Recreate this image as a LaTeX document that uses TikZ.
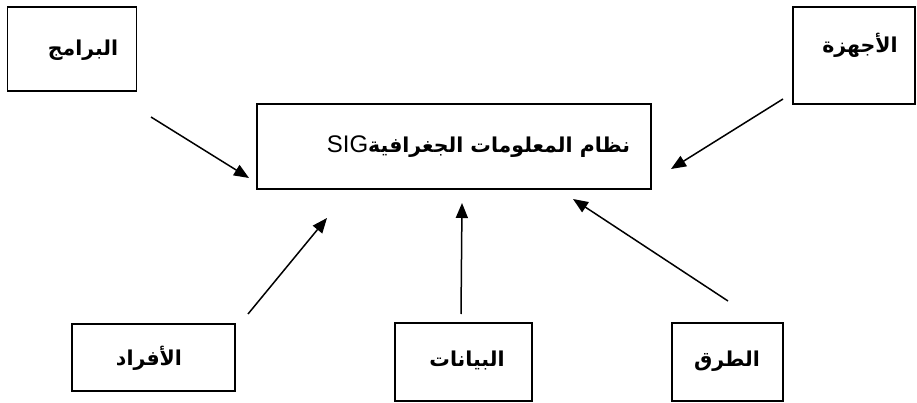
\documentclass[tikz,border=0pt]{standalone}
\usepackage{fontspec}
\setmainfont{Liberation Sans}
\newfontfamily\arabicfont[Script=Arabic]{DejaVu Sans}
\TeXXeTstate=1
\usetikzlibrary{arrows.meta,calc}
\begin{document}
\begin{tikzpicture}[x=1pt,y=-1pt,
  box/.style={draw,line width=1.5pt,inner sep=0pt},
  lbl/.style={font=\arabicfont\bfseries\fontsize{20.5}{24}\selectfont},
  arr/.style={line width=1.5pt,-{Triangle[length=15pt,width=12pt]}}]
\useasboundingbox (0,0) rectangle (917,403);
\node[box,minimum width=129pt,minimum height=84pt] (prog) at (72,49) {};
\node[lbl] at (83,50) {\beginR البرامج\endR};
\node[box,minimum width=122pt,minimum height=97pt] (hard) at (854,55.5) {};
\node[lbl] at (860,45) {\beginR الأجهزة\endR};
\node[box,minimum width=394pt,minimum height=85pt] (gis) at (454,146.5) {};
\node[anchor=east,font=\fontsize{24}{28}\selectfont] (gist) at ($(gis.east)+(-18pt,0)$) {\beginR{\arabicfont\bfseries\fontsize{20.5}{28}\selectfont نظام المعلومات الجغرافية}\beginL SIG\endL\endR};
\node[box,minimum width=163pt,minimum height=67pt] (pers) at (153.5,357.5) {};
\node[lbl] at (149,358) {\beginR الأفراد\endR};
\node[box,minimum width=137pt,minimum height=78pt] (data) at (463.5,362) {};
\node[lbl] at (467,360) {\beginR البيانات\endR};
\node[box,minimum width=111pt,minimum height=78pt] (meth) at (727.5,362) {};
\node[lbl] at (727,361) {\beginR الطرق\endR};
\coordinate (a1) at (151,117); \coordinate (b1) at (249,178);
\coordinate (a2) at (783,99);  \coordinate (b2) at (671,169);
\coordinate (a3) at (248,314); \coordinate (b3) at (327,218);
\coordinate (a4) at (461,314); \coordinate (b4) at (462,203);
\coordinate (a5) at (728,301); \coordinate (b5) at (573,199);
\draw[arr] (a1) -- (b1);
\draw[arr] (a2) -- (b2);
\draw[arr] (a3) -- (b3);
\draw[arr] (a4) -- (b4);
\draw[arr] (a5) -- (b5);
\end{tikzpicture}
\end{document}
